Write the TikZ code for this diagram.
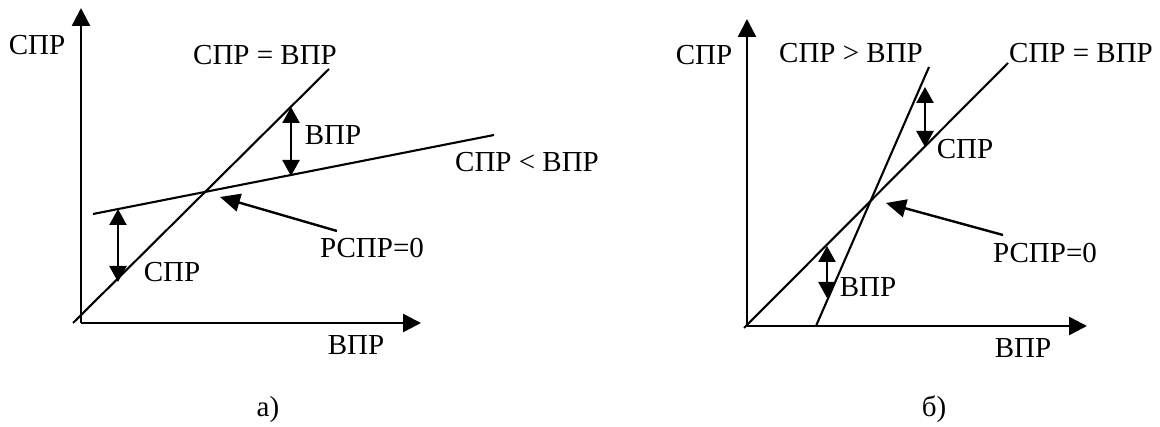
\documentclass[tikz,border=0pt]{standalone}
\usepackage{fontspec}
\setmainfont{Liberation Serif}
\usetikzlibrary{arrows.meta}
\begin{document}
\begin{tikzpicture}[x=1pt,y=-1pt,
  lbl/.style={inner sep=0pt,anchor=base,font=\fontsize{29}{29}\selectfont},
  gline/.style={line width=2.1pt},
  axis/.style={line width=2.4pt,-{Triangle[length=18pt,width=18pt]}},
  dbl/.style={line width=2.4pt,{Triangle[length=16pt,width=17pt]}-{Triangle[length=16pt,width=17pt]}},
  ptr/.style={line width=2.4pt,-{Triangle[length=20pt,width=18pt]}}]
\useasboundingbox (0,0) rectangle (1160,427);
% ---------- panel a ----------
\coordinate (aO) at (81,323);
\coordinate (aY) at (81,8);
\coordinate (aX) at (421,323);
\draw[axis] (aO) -- (aY);
\draw[axis] (aO) -- (aX);
\coordinate (aD1) at (73,323);
\coordinate (aD2) at (329,69);
\draw[gline] (aD1) -- (aD2);
\coordinate (aF1) at (93,214);
\coordinate (aF2) at (494,135);
\draw[gline] (aF1) -- (aF2);
\coordinate (aA1) at (118,209);
\coordinate (aA2) at (118,282);
\draw[dbl] (aA1) -- (aA2);
\coordinate (aB1) at (291,107);
\coordinate (aB2) at (291,176);
\draw[dbl] (aB1) -- (aB2);
\coordinate (aP1) at (337,231);
\coordinate (aP2) at (220,197);
\draw[ptr] (aP1) -- (aP2);
\node[lbl] (aly) at (37,55) {СПР};
\node[lbl] (ale) at (265,65) {СПР = ВПР};
\node[lbl] (all) at (527,172) {СПР < ВПР};
\node[lbl] (alb) at (333,145) {ВПР};
\node[lbl] (als) at (172,282) {СПР};
\node[lbl] (alr) at (372,258) {РСПР=0};
\node[lbl] (alx) at (356,355) {ВПР};
\node[lbl] (acap) at (268,417) {а)};
% ---------- panel b ----------
\coordinate (bO) at (747,326);
\coordinate (bY) at (747,19);
\coordinate (bX) at (1087,326);
\draw[axis] (bO) -- (bY);
\draw[axis] (bO) -- (bX);
\coordinate (bD1) at (744,328);
\coordinate (bD2) at (1008,63);
\draw[gline] (bD1) -- (bD2);
\coordinate (bS1) at (816,326);
\coordinate (bS2) at (929,67);
\draw[gline] (bS1) -- (bS2);
\coordinate (bA1) at (925,87);
\coordinate (bA2) at (925,147);
\draw[dbl] (bA1) -- (bA2);
\coordinate (bB1) at (827,246);
\coordinate (bB2) at (827,298);
\draw[dbl] (bB1) -- (bB2);
\coordinate (bP1) at (1003,235);
\coordinate (bP2) at (886,203);
\draw[ptr] (bP1) -- (bP2);
\node[lbl] (bly) at (704,65) {СПР};
\node[lbl] (blg) at (851,63) {СПР > ВПР};
\node[lbl] (ble) at (1081,63) {СПР = ВПР};
\node[lbl] (bls) at (965,159) {СПР};
\node[lbl] (blb) at (868,297) {ВПР};
\node[lbl] (blr) at (1045,263) {РСПР=0};
\node[lbl] (blx) at (1023,358) {ВПР};
\node[lbl] (bcap) at (934,417) {б)};
\end{tikzpicture}
\end{document}
